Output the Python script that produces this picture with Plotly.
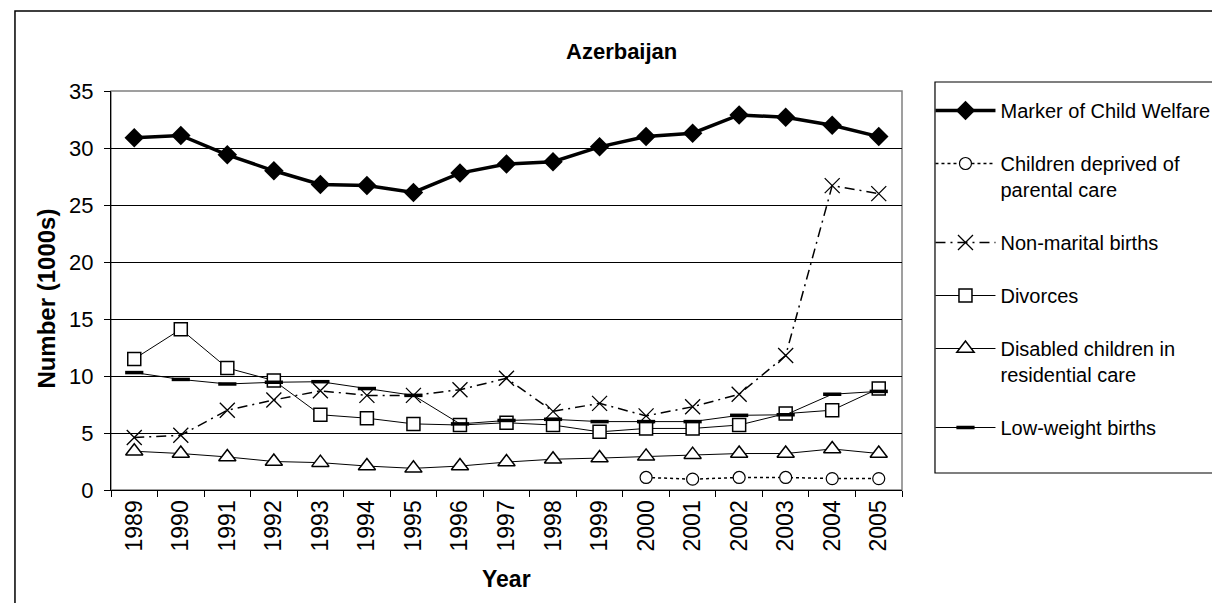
"""
Azerbaijan child welfare indicators, 1989-2005
"""

import plotly.graph_objects as go

# Data (thousands)
years = [str(y) for y in range(1989, 2006)]

welfare = [30.9, 31.1, 29.4, 28.0, 26.8, 26.7, 26.1, 27.8, 28.6,
           28.8, 30.1, 31.0, 31.3, 32.9, 32.7, 32.0, 31.0]
deprived = [None, None, None, None, None, None, None, None, None,
            None, None, 1.1, 0.95, 1.1, 1.1, 1.0, 1.0]
non_marital = [4.6, 4.8, 7.0, 7.9, 8.7, 8.3, 8.3, 8.8, 9.8,
               6.9, 7.6, 6.5, 7.3, 8.4, 11.8, 26.7, 26.0]
divorces = [11.5, 14.1, 10.7, 9.6, 6.6, 6.3, 5.8, 5.7, 5.9,
            5.7, 5.1, 5.4, 5.4, 5.7, 6.7, 7.0, 8.9]
disabled = [3.4, 3.2, 2.9, 2.5, 2.4, 2.1, 1.9, 2.1, 2.45,
            2.7, 2.8, 2.95, 3.1, 3.2, 3.2, 3.6, 3.2]
low_weight = [10.3, 9.7, 9.3, 9.45, 9.5, 8.9, 8.3, 5.8, 6.1,
              6.2, 6.0, 6.0, 6.0, 6.55, 6.6, 8.4, 8.65]

FONT = "Liberation Sans, Arial, sans-serif"

fig = go.Figure()

# Marker of Child Welfare
fig.add_trace(go.Scatter(
    x=years, y=welfare, mode='lines+markers',
    name='Marker of Child Welfare', legendgroup='a',
    line=dict(color='black', width=3.5),
    marker=dict(symbol='diamond', size=15, color='black')
))

# Children deprived of parental care
fig.add_trace(go.Scatter(
    x=years, y=deprived, mode='lines+markers',
    name='Children deprived of<br>parental care', legendgroup='b',
    line=dict(color='black', width=1.5, dash='dot'),
    marker=dict(symbol='circle', size=12, color='white',
                line=dict(color='black', width=1.2))
))

# Non-marital births
fig.add_trace(go.Scatter(
    x=years, y=non_marital, mode='lines+markers',
    name='Non-marital births', legendgroup='c',
    line=dict(color='black', width=1.5, dash='10px,5px,2px,5px'),
    marker=dict(symbol='x-thin-open', size=15,
                line=dict(color='black', width=1.3))
))

# Divorces
fig.add_trace(go.Scatter(
    x=years, y=divorces, mode='lines+markers',
    name='Divorces', legendgroup='d',
    line=dict(color='black', width=1),
    marker=dict(symbol='square', size=13, color='white',
                line=dict(color='black', width=1.5))
))

# Disabled children in residential care
fig.add_trace(go.Scatter(
    x=years, y=disabled, mode='lines+markers',
    name='Disabled children in<br>residential care', legendgroup='e',
    line=dict(color='black', width=1),
    marker=dict(symbol='triangle-up', size=15, color='white',
                line=dict(color='black', width=1.5))
))

# Low-weight births
fig.add_trace(go.Scatter(
    x=years, y=low_weight, mode='lines+markers',
    name='Low-weight births', legendgroup='f',
    line=dict(color='black', width=1),
    marker=dict(symbol='line-ew', size=13,
                line=dict(color='black', width=3.5))
))

fig.update_layout(
    width=1220, height=603,
    margin=dict(l=103, r=326, t=83, b=121, autoexpand=False),
    paper_bgcolor='white', plot_bgcolor='white',
    font=dict(family=FONT, size=20, color='black'),
    title=dict(text='<b>Azerbaijan</b>', x=0.503, y=0.929,
               xanchor='center', yanchor='middle',
               font=dict(family=FONT, size=22, color='black')),
    showlegend=True,
    legend=dict(
        x=1.036, y=1.0, xanchor='left', yanchor='top',
        bgcolor='rgba(0,0,0,0)', borderwidth=0,
        font=dict(family=FONT, size=20, color='black'),
        itemwidth=60, tracegroupgap=24, valign='top',
        traceorder='grouped', itemclick=False
    ),
    shapes=[
        # outer chart border
        dict(type='rect', xref='paper', yref='paper',
             x0=-0.1214, x1=1.4096, y0=-0.31, y1=1.2005,
             line=dict(color='black', width=1.5), layer='below'),
        # plot area frame (gray top/right)
        dict(type='rect', xref='paper', yref='paper',
             x0=0, x1=1, y0=0, y1=1,
             line=dict(color='#808080', width=1.5), layer='below'),
        # legend box
        dict(type='rect', xref='paper', yref='paper',
             x0=1.0417, x1=1.4059, y0=0.0426, y1=1.0226,
             line=dict(color='black', width=1.2), layer='below'),
    ],
    annotations=[
        dict(text='<b>Number (1000s)</b>', textangle=-90,
             xref='paper', yref='paper', x=-0.082, y=0.48,
             xanchor='center', yanchor='middle',
             showarrow=False, font=dict(family=FONT, size=24)),
        dict(text='<b>Year</b>', xref='paper', yref='paper',
             x=0.5, y=-0.222, xanchor='center', yanchor='middle',
             showarrow=False, font=dict(family=FONT, size=23)),
    ],
)

fig.update_xaxes(
    type='category', range=[-0.5, 16.5],
    showline=True, linecolor='black', linewidth=1.2,
    ticks='outside', tickson='boundaries', ticklen=6,
    tickcolor='black', tickangle=-90, showgrid=False,
    tickfont=dict(family=FONT, size=23)
)
fig.update_yaxes(
    range=[0, 35], dtick=5,
    showline=True, linecolor='black', linewidth=1.2,
    ticks='outside', ticklen=6, tickcolor='black',
    showgrid=True, gridcolor='black', gridwidth=1,
    zeroline=False, ticklabelstandoff=6,
    tickfont=dict(family=FONT, size=22)
)

fig.write_html("out.html")
